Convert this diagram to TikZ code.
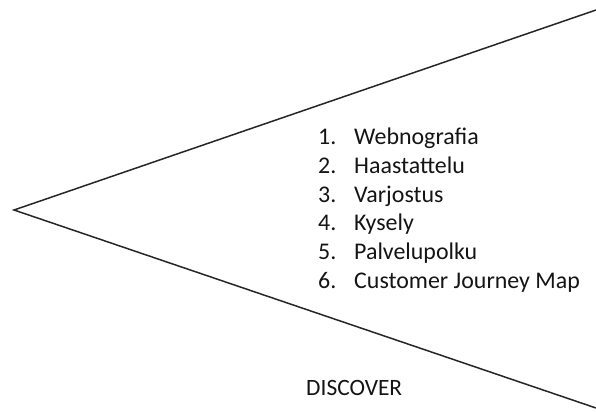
\documentclass[tikz,border=0pt]{standalone}
\usepackage{fontspec}
\setmainfont{Carlito}
\begin{document}
\begin{tikzpicture}[x=1bp,y=-1bp,
  edge/.style={line width=1.5bp, draw=black!85},
  item/.style={inner sep=0pt, anchor=base west, text=black!92,
               font=\fontsize{24}{28}\selectfont},
  label/.style={inner sep=0pt, anchor=base west, text=black!92,
               font=\fontsize{23.5}{28}\selectfont}]
\useasboundingbox (0,0) rectangle (596,411);
% funnel opening to the right
\coordinate (apex) at (14,210);
\coordinate (upper) at (596,10);
\coordinate (lower) at (596,408);
\draw[edge] (upper) -- (apex) -- (lower);
% numbered list of methods
\foreach \i/\t in {1/Webnografia, 2/Haastattelu, 3/Varjostus,
                   4/Kysely, 5/Palvelupolku, 6/Customer Journey Map}{
  \node[item] (num\i) at (318,{144.5+28.8*(\i-1)}) {\i.};
  \node[item] (txt\i) at (354,{144.5+28.8*(\i-1)}) {\t};
}
\node[label] (phase) at (306,395.5) {DISCOVER};
\end{tikzpicture}
\end{document}
